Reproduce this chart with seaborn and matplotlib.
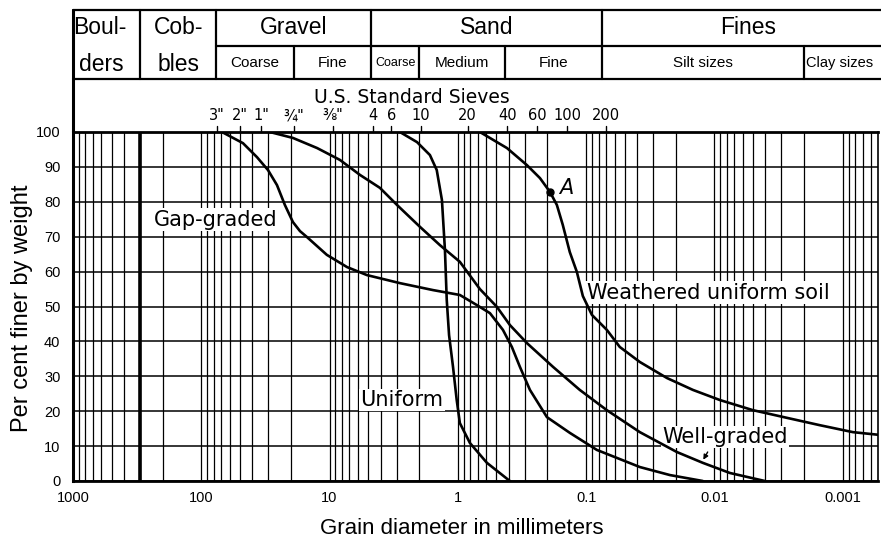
import numpy as np
import pandas as pd
import matplotlib.pyplot as plt
import matplotlib.transforms as mtransforms
from matplotlib.ticker import LogLocator, NullFormatter
import seaborn as sns

# ----------------------------
# Data: grain diameter (mm) vs per cent finer
# ----------------------------
gap_mm = [69.0, 47.3, 36.8, 30.2, 25.7, 22.3, 19.3, 17.0, 15.0, 10.5, 7.31, 5.11, 2.83,
          1.56, 0.964, 0.71, 0.562, 0.445, 0.379, 0.328, 0.274, 0.202, 0.134, 0.0824,
          0.0381, 0.0222, 0.0123]
gap_pct = [100, 96.8, 92.8, 89.1, 84.8, 79.1, 74.2, 71.6, 69.9, 64.8, 61.3, 59.0, 56.7,
           54.7, 53.3, 50.4, 48.1, 43.3, 38.4, 32.7, 26.1, 18.3, 13.8, 8.9, 4.0, 1.7, 0]

well_mm = [29.2, 19.3, 12.5, 8.30, 5.79, 4.05, 2.98, 1.97, 1.38, 0.964, 0.673, 0.496,
           0.393, 0.289, 0.181, 0.112, 0.0689, 0.0381, 0.0196, 0.0123, 0.00757, 0.00404]
well_pct = [100, 98.3, 95.4, 92.0, 87.7, 84.0, 79.1, 72.8, 67.6, 62.8, 55.0, 49.9,
            44.7, 39.5, 32.7, 26.1, 20.3, 14.0, 8.3, 5.2, 2.3, 0]

uniform_mm = [2.83, 2.08, 1.65, 1.46, 1.33, 1.26, 1.22, 1.17, 1.09, 1.02, 0.964, 0.805,
              0.593, 0.393]
uniform_pct = [100, 97.1, 93.4, 89.1, 80.5, 66.2, 51.9, 41.8, 32.7, 23.2, 16.6, 10.9,
               5.2, 0]

weathered_mm = [0.673, 0.414, 0.289, 0.229, 0.191, 0.169, 0.152, 0.134, 0.118, 0.106,
                0.0901, 0.0689, 0.0546, 0.0381, 0.0234, 0.0147, 0.00906, 0.00501,
                0.00272, 0.00151, 0.000832, 0.000513]
weathered_pct = [100, 95.4, 90.5, 86.8, 82.8, 79.1, 73.4, 65.6, 59.9, 53.0, 47.6, 43.3,
                 38.4, 34.1, 29.5, 26.1, 23.2, 20.3, 18.1, 16.0, 14.0, 13.2]

point_a_mm = 0.191
point_a_pct = 82.8

decades = [1000, 100, 10, 1, 0.1, 0.01, 0.001]
decade_labels = ["1000", "100", "10", "1", "0.1", "0.01", "0.001"]
pct_ticks = list(range(0, 101, 10))

sieve_labels = ['3"', '2"', '1"', '¾"', '⅜"', "4", "6", "10", "20", "40", "60", "100", "200"]
sieve_mm = [75, 50, 34, 19, 9.4, 4.6, 3.3, 1.95, 0.84, 0.41, 0.24, 0.14, 0.07]

# soil classification boundaries (mm)
boulder_mm = 300
cobble_mm = 76.2
gravel_split_mm = 19.05
sand_mm = 4.75
coarse_sand_mm = 2.0
medium_sand_mm = 0.425
fines_mm = 0.075
clay_mm = 0.002

rows = []
for name, mm, pct in [("Gap-graded", gap_mm, gap_pct),
                      ("Well-graded", well_mm, well_pct),
                      ("Uniform", uniform_mm, uniform_pct),
                      ("Weathered uniform soil", weathered_mm, weathered_pct)]:
    for m, p in zip(mm, pct):
        rows.append({"soil": name, "mm": m, "pct": p})
df = pd.DataFrame(rows)

# ----------------------------
# Plot
# ----------------------------
sns.set_style("white")
plt.rcParams["font.family"] = ["Liberation Sans", "DejaVu Sans"]
plt.rcParams["text.color"] = "black"
plt.rcParams["axes.labelcolor"] = "black"
plt.rcParams["xtick.color"] = "black"
plt.rcParams["ytick.color"] = "black"

fig = plt.figure(figsize=(8.81, 5.42), dpi=100)
ax = fig.add_axes([73 / 881, 61 / 542, 805 / 881, 349 / 542])
ax.set_xscale("log")

sns.lineplot(data=df, x="mm", y="pct", hue="soil",
             palette={s: "black" for s in df["soil"].unique()},
             estimator=None, sort=False, legend=False, lw=1.9, ax=ax, zorder=4)
ax.plot(point_a_mm, point_a_pct, "o", color="black", ms=5, zorder=5)

x_right = 0.00053
ax.set_xlim(1000, x_right)
ax.set_ylim(0, 100)
ax.set_xticks(decades, labels=decade_labels)
ax.xaxis.set_minor_locator(LogLocator(base=10, subs=np.arange(2, 10), numticks=40))
ax.xaxis.set_minor_formatter(NullFormatter())
ax.set_yticks(pct_ticks)
ax.grid(True, which="both", axis="x", color="black", lw=0.9)
ax.grid(True, which="major", axis="y", color="black", lw=1.1)
ax.tick_params(which="both", length=0, colors="black")
ax.tick_params(axis="y", pad=9, labelsize=10.5)
ax.tick_params(axis="x", pad=7, labelsize=10.5)
ax.set_xlabel("")
ax.set_ylabel("")
ax.axvline(boulder_mm, color="black", lw=2.6, zorder=1)

for side, w in [("left", 2.2), ("bottom", 2.0), ("top", 2.0), ("right", 1.2)]:
    ax.spines[side].set_color("black")
    ax.spines[side].set_linewidth(w)

# in-plot labels
box = dict(facecolor="white", edgecolor="none", pad=1.0)
lab = dict(family="DejaVu Sans", fontsize=15, ha="center", va="center", bbox=box, zorder=3)
ax.text(76.7, 74.8, "Gap-graded", **lab)
ax.text(2.73, 23.2, "Uniform", **lab)
ax.text(0.0112, 53.9, "Weathered uniform soil", **lab)
ax.text(0.0083, 12.6, "Well-graded", **lab)
ax.text(0.142, 84.0, "A", family="DejaVu Sans", fontsize=15, style="italic",
        ha="center", va="center")
ax.annotate("", xy=(0.0125, 5.4), xytext=(0.0110, 9.0),
            arrowprops=dict(arrowstyle="-|>", color="black", lw=1.0, mutation_scale=7))

# ----------------------------
# Header table and sieve scale above the plot
# ----------------------------
trans = mtransforms.blended_transform_factory(ax.transData, ax.transAxes)
y_top, y_mid, y_bot = 1.35, 1.246, 1.152
x_far = 0.0003


def hline(y, x0, x1, lw=1.6):
    ax.plot([x0, x1], [y, y], color="black", lw=lw, transform=trans, clip_on=False)


def vline(x, y0, y1, lw=1.6):
    ax.plot([x, x], [y0, y1], color="black", lw=lw, transform=trans, clip_on=False)


vline(1000, 1.0, y_top, lw=2.2)
hline(y_top, 1000, x_far)
hline(y_bot, 1000, x_far)
hline(y_mid, cobble_mm, x_far)
for b in [boulder_mm, cobble_mm, sand_mm, fines_mm]:
    vline(b, y_bot, y_top)
for b in [gravel_split_mm, coarse_sand_mm, medium_sand_mm, clay_mm]:
    vline(b, y_bot, y_mid)

r1 = (y_top + y_mid) / 2
r2 = (y_mid + y_bot) / 2
big = dict(fontsize=16.5, ha="center", va="center", transform=trans)
small = dict(fontsize=11, ha="center", va="center", transform=trans)
hdr_right = 0.0004


def mid(a, b):
    return np.sqrt(a * b)


ax.text(620, r1, "Boul-", **big)
ax.text(600, r2 - 0.005, "ders", **big)
ax.text(mid(boulder_mm, cobble_mm), r1, "Cob-", **big)
ax.text(mid(boulder_mm, cobble_mm), r2 - 0.005, "bles", **big)
ax.text(mid(cobble_mm, sand_mm), r1, "Gravel", **big)
ax.text(mid(sand_mm, fines_mm), r1, "Sand", **big)
ax.text(mid(fines_mm, hdr_right), r1, "Fines", **big)
ax.text(mid(cobble_mm, gravel_split_mm), r2, "Coarse", **small)
ax.text(mid(gravel_split_mm, sand_mm), r2, "Fine", **small)
ax.text(mid(sand_mm, coarse_sand_mm), r2, "Coarse", fontsize=9, ha="center",
        va="center", transform=trans)
ax.text(mid(coarse_sand_mm, medium_sand_mm), r2, "Medium", **small)
ax.text(mid(medium_sand_mm, fines_mm), r2, "Fine", **small)
ax.text(mid(fines_mm, clay_mm), r2, "Silt sizes", **small)
ax.text(0.00192, r2, "Clay sizes", fontsize=10.5, ha="left", va="center", transform=trans)

ax.text(2.28, 1.100, "U.S. Standard Sieves", family="DejaVu Sans", fontsize=13.5,
        ha="center", va="center", transform=trans)
for lbl, mm in zip(sieve_labels, sieve_mm):
    vline(mm, 1.0, 1.016, lw=1.0)
    ax.text(mm, 1.046, lbl, family="DejaVu Sans", fontsize=10.5, ha="center",
            va="center", transform=trans)

fig.text(22 / 881, 1 - 308 / 542, "Per cent finer by weight", rotation=90,
         fontsize=17, ha="center", va="center")
fig.text(462 / 881, 1 - 528 / 542, "Grain diameter in millimeters",
         fontsize=16, ha="center", va="center")

fig.savefig("out.png", dpi=100, facecolor="white")
